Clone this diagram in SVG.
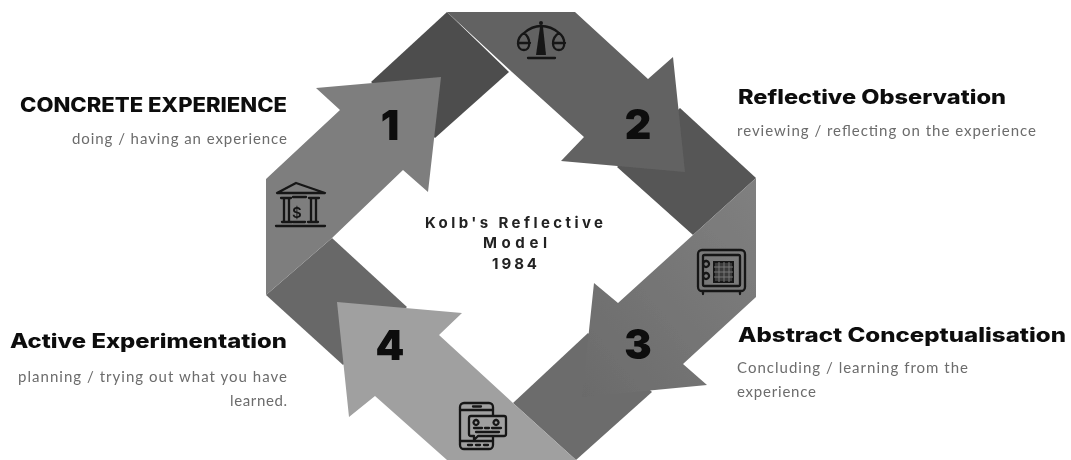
<svg xmlns="http://www.w3.org/2000/svg" width="1071" height="460" viewBox="0 0 1071 460">
<style>
.h{font-family:Inter,"Liberation Sans",sans-serif;font-weight:800;font-size:20px;fill:#111}
.s{font-family:Lato,"Open Sans",sans-serif;font-weight:400;font-size:15px;fill:#6c6c6c}
.c{font-family:Inter,"Liberation Sans",sans-serif;font-weight:700;font-size:15px;fill:#222}
.n{font-family:Inter,"Liberation Sans",sans-serif;font-weight:900;font-size:41px;fill:#0a0a0a;text-anchor:middle}
.i{fill:none;stroke:#161616;stroke-width:2.300;stroke-linejoin:round;stroke-linecap:round}
.d{fill:#161616}
</style>
<defs>
<filter id="soft" x="-5%" y="-5%" width="110%" height="110%"><feGaussianBlur stdDeviation="0.45"/></filter>
<linearGradient id="g3" x1="1" y1="0" x2="0" y2="1"><stop offset="0" stop-color="#808080"/><stop offset="1" stop-color="#6b6b6b"/></linearGradient>
</defs>
<rect width="1071" height="460" fill="#fff"/>
<g filter="url(#soft)">
<g id="connectors">
<polygon id="band1" points="371,82 447,12 509,72 435,138" fill="#4e4e4e"/>
<polygon id="band2" points="680,108 756,178 693,235 617,167" fill="#565656"/>
<polygon id="band3" points="588,333 513,403 576,460 652,392" fill="#6c6c6c"/>
<polygon id="band4" points="266,295 332,238 407,307 343,365" fill="#686868"/>
<polygon id="arrow4" points="337,302 462,313 439,335 513,403 576,460 447,460 375,396 349,417" fill="#a0a0a0"/>
<polygon id="arrow1" points="316,88 441,77 428,192 403,170 332,238 266,295 266,179 340,110" fill="#7e7e7e"/>
<polygon id="arrow2" points="447,12 575,12 648,79 673,57 685,172 561,161 584,137 512,72" fill="#626262"/>
<polygon id="arrow3" points="756,178 756,297 683,364 707,385 582,397 594,283 618,303 693,235" fill="url(#g3)"/>
</g>
<g id="node1">
<text class="h" x="20" y="112" textLength="267" lengthAdjust="spacingAndGlyphs">CONCRETE EXPERIENCE</text>
<text class="s" x="72" y="144" textLength="215">doing / having an experience</text>
<text class="n" x="390" y="140">1</text>
<g id="icon-bank">
<path class="i" d="M277,193 L296,183 L325,193 Z"/>
<path class="i" d="M281,198H291M309,198H319M282,222H292M308,222H318M284,199V221M289,199V221M311,199V221M316,199V221M276,226H325M293,197H306M293,222H305"/>
<text x="297" y="218" font-family="Inter,sans-serif" font-size="15" font-weight="600" fill="#161616" text-anchor="middle">$</text>
</g>
</g>
<g id="node2">
<text class="h" x="738" y="104" textLength="268" lengthAdjust="spacingAndGlyphs">Reflective Observation</text>
<text class="s" x="737" y="136" textLength="299">reviewing / reflecting on the experience</text>
<text class="n" x="638" y="139">2</text>
<g id="icon-scales">
<path class="i" d="M524,33 Q532,26 541,26 Q551,26 559,33M524,33 C516,38 516,50 524,50 C531,50 531,38 524,33 M559,33 C551,38 551,50 559,50 C566,50 566,38 559,33 M518,43 H530 M553,43 H565 M528,58 H555"/>
<circle class="d" cx="541" cy="23" r="2"/>
<polygon class="d" points="540,27 543,27 546,55 536,55"/>
</g>
</g>
<g id="node3">
<text class="h" x="738" y="342" textLength="328" lengthAdjust="spacingAndGlyphs">Abstract Conceptualisation</text>
<text class="s" x="737" y="373" textLength="231">Concluding  / learning from the</text>
<text class="s" x="737" y="397" textLength="79">experience</text>
<text class="n" x="638" y="359">3</text>
<g id="icon-safe">
<rect class="i" x="698" y="250" width="47" height="41" rx="4"/>
<rect class="i" x="703" y="255" width="37" height="31" rx="1.500"/>
<rect x="714" y="262" width="19" height="20" fill="#3a3a3a" stroke="#161616" stroke-width="2"/>
<path class="i" d="M706,261a3,3 0 1 0 .1,0M706,273a3,3 0 1 0 .1,0M703,292V294M740,292V294"/>
<path d="M714,267H733M714,272H733M714,277H733M719,262V282M724,262V282M729,262V282" stroke="#777" stroke-width="1" fill="none"/>
</g>
</g>
<g id="node4">
<text class="h" x="10" y="348" textLength="277" lengthAdjust="spacingAndGlyphs">Active Experimentation</text>
<text class="s" x="18" y="382" textLength="269">planning / trying out what you have</text>
<text class="s" x="230" y="406" textLength="57">learned.</text>
<text class="n" x="390" y="360">4</text>
<g id="icon-phone">
<rect class="i" x="460" y="403" width="33" height="46" rx="4"/>
<path class="i" d="M460,410H493M460,441H493M473,406.500H481M468,445H472M476,445H480M484,445H488"/>
<path d="M471,416H504a2,2 0 0 1 2,2V434a2,2 0 0 1 -2,2H478L474,440V436H471a2,2 0 0 1 -2,-2V418a2,2 0 0 1 2,-2Z" fill="#a0a0a0" stroke="#161616" stroke-width="2.300" stroke-linejoin="round"/>
<path class="i" d="M476,420a2.500,2.500 0 1 0 .1,0M496,420a2.500,2.500 0 1 0 .1,0M474,428H482M485,428H489M492,428H501M476,432H499"/>
</g>
</g>
<g id="center">
<text class="c" x="425" y="228" textLength="178">Kolb's Reflective</text>
<text class="c" x="483" y="248" textLength="64">Model</text>
<text class="c" x="492" y="269" textLength="45">1984</text>
</g>
</g>
</svg>
